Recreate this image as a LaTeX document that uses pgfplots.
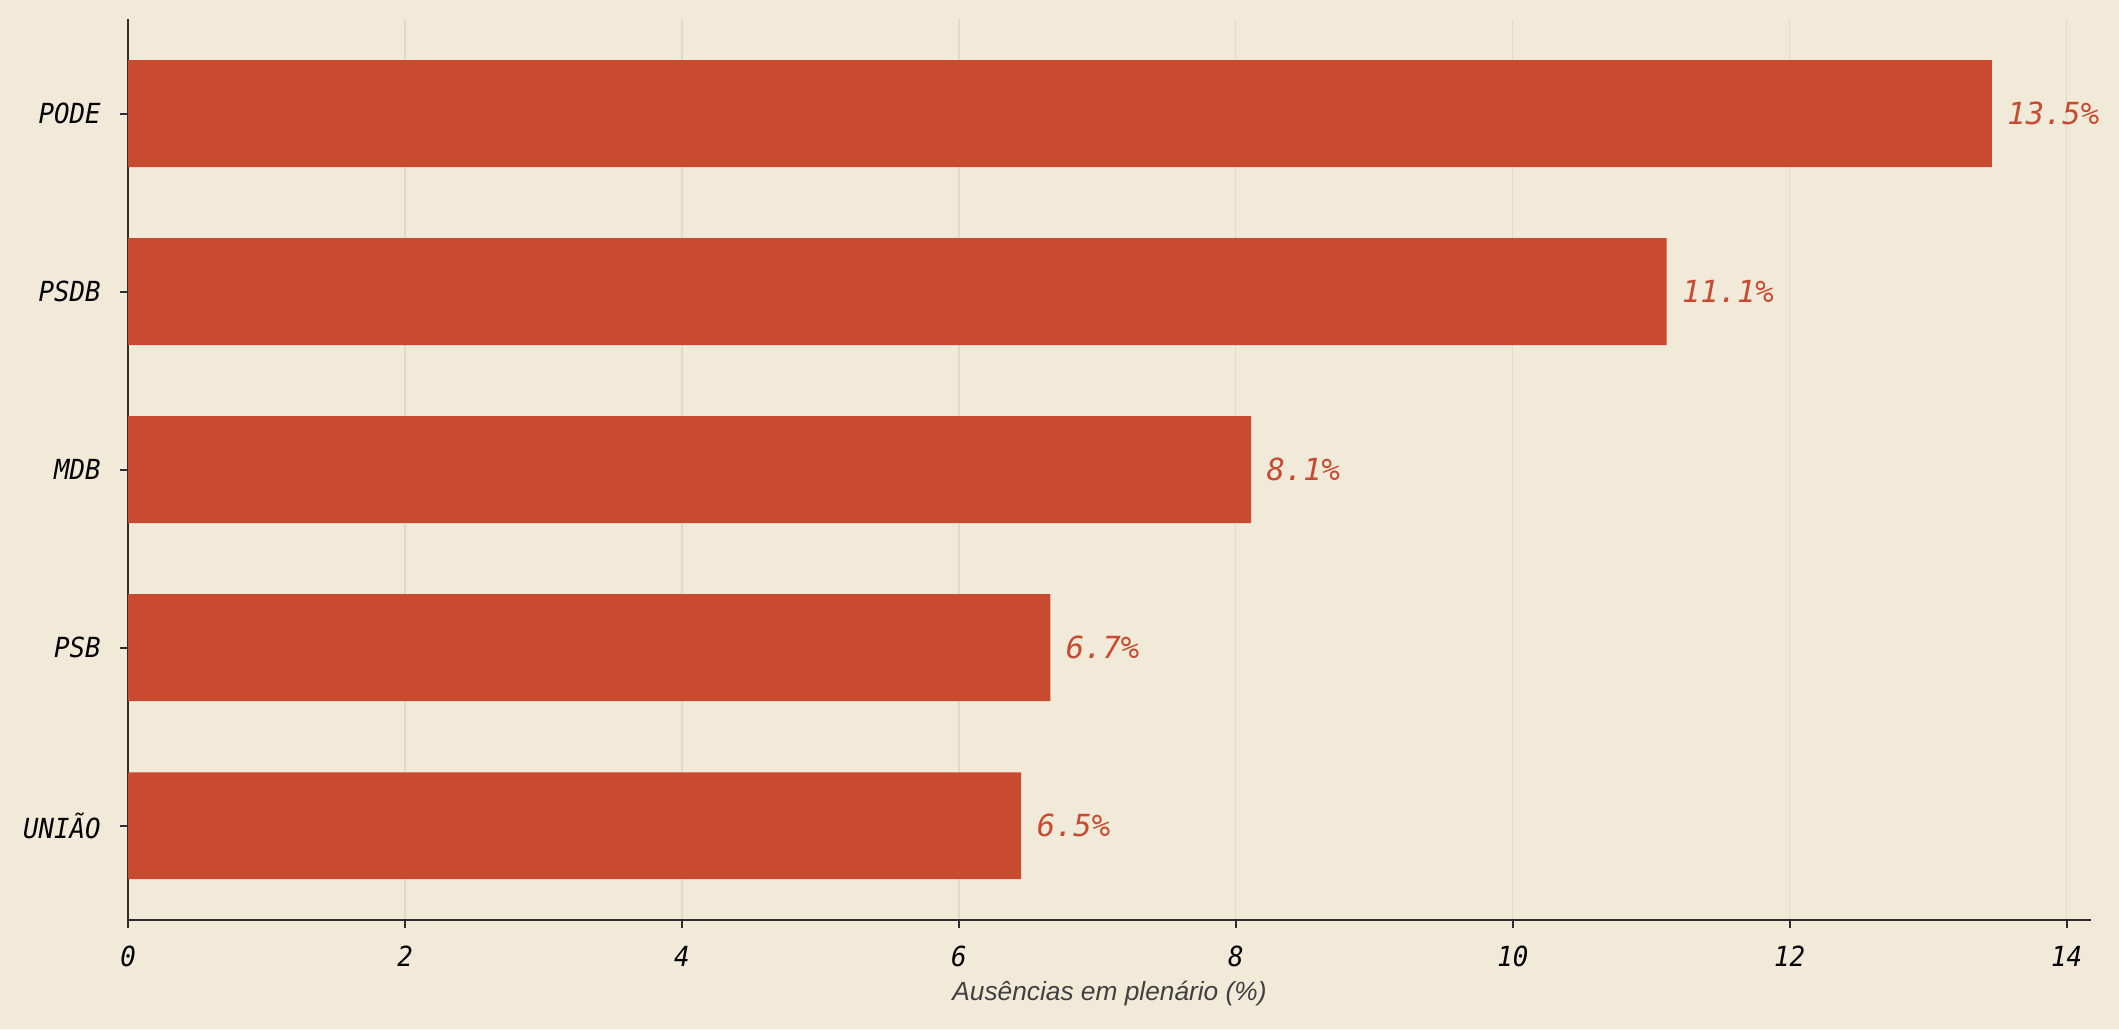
\documentclass[border=0pt]{standalone}
\usepackage{fontspec}
\usepackage{pgfplots}
\pgfplotsset{compat=1.18}
\setmainfont{Liberation Sans}
\newfontfamily\monof{DejaVu Sans Mono}
\newfontfamily\monot{DejaVu Sans Mono}[FakeStretch=0.93]
\definecolor{bgc}{HTML}{F1EAD9}
\definecolor{barc}{HTML}{C84B31}
\definecolor{gridc}{HTML}{E0DACB}
\definecolor{axc}{HTML}{2E2E2E}
\definecolor{labc}{HTML}{404040}
\begin{document}
\begin{tikzpicture}
\fill[bgc] (0,0) rectangle (762.84bp,370.44bp);
\begin{axis}[
  at={(46.12bp,39.24bp)}, anchor=south west,
  scale only axis, width=706.6bp, height=324.25bp,
  xmin=0, xmax=14.175, ymin=-0.53, ymax=4.53,
  xbar, bar width=0.6,
  axis x line*=bottom, axis y line*=left,
  axis line style={draw=axc, line width=0.65bp},
  every tick/.style={draw=axc, line width=0.8bp},
  tick align=outside, major tick length=2.9bp,
  xtick={0,2,...,14}, ytick={0,1,2,3,4},
  yticklabels={UNIÃO,PSB,MDB,PSDB,PODE},
  /pgf/number format/assume math mode=true,
  ticklabel style={font=\monot\itshape\fontsize{10}{12}\selectfont, text=black},
  xticklabel style={yshift=-3bp},
  yticklabel style={xshift=-3.5bp},
  xmajorgrids, grid style={draw=gridc, line width=0.45bp},
  xlabel={Ausências em plenário (\%)},
  xlabel style={at={(axis description cs:0.5,0)}, anchor=center, yshift=-26.3bp,
    font=\itshape\fontsize{9.5}{11}\selectfont, text=labc},
  point meta=explicit symbolic,
  nodes near coords,
  nodes near coords style={anchor=west, inner sep=0pt, xshift=5.4bp,
    font=\monof\itshape\fontsize{11}{13}\selectfont, text=barc},
  clip=false,
]
\addplot[draw=none, fill=barc] coordinates {
  (13.46,4) [13.5\%]
  (11.11,3) [11.1\%]
  (8.11,2) [8.1\%]
  (6.66,1) [6.7\%]
  (6.45,0) [6.5\%]
};
\end{axis}
\pgfresetboundingbox
\path[use as bounding box] (0,0) rectangle (762.84bp,370.44bp);
\end{tikzpicture}
\end{document}
